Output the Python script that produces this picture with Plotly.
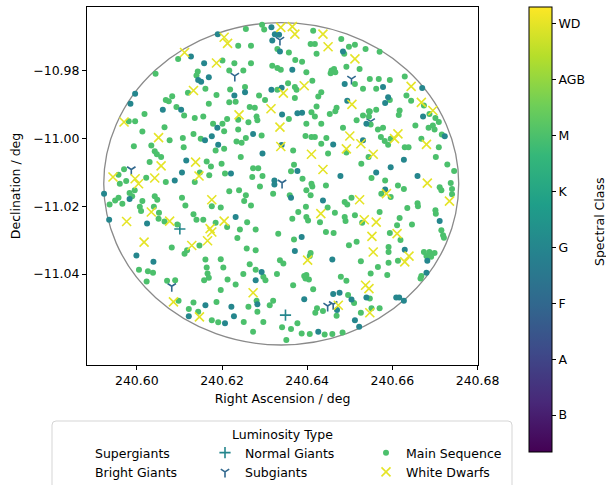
import plotly.graph_objects as go
from plotly.colors import sample_colorscale

# ---------------- data ----------------
CLASS_NAMES = ["B", "A", "F", "G", "K", "M", "AGB", "WD"]
CLASS_VALUES = [0, 1, 2, 3, 4, 5, 6, 7]

# Main sequence stars, spectral class M  (RA deg, Dec deg)
ms_m_points = [
    (240.6097, -10.9766), (240.6044, -10.9810), (240.6120, -10.9866), (240.6083, -10.9876), (240.6068, -10.9887),
    (240.6075, -10.9891), (240.6093, -10.9908), (240.6111, -10.9933), (240.6018, -10.9928), (240.5981, -10.9950),
    (240.5996, -10.9950), (240.6065, -10.9967), (240.6013, -10.9980), (240.6077, -11.0006), (240.6108, -10.9999),
    (240.5993, -11.0023), (240.6034, -11.0021), (240.6110, -11.0026), (240.6042, -11.0038), (240.6047, -11.0047),
    (240.6057, -11.0055), (240.6030, -11.0070), (240.5970, -11.0091), (240.5957, -11.0107), (240.6022, -11.0116),
    (240.6068, -11.0129), (240.5975, -11.0126), (240.5960, -11.0134),
    (240.5957, -11.0175), (240.5949, -11.0183), (240.5936, -11.0195), (240.5966, -11.0193), (240.5983, -11.0161),
    (240.5989, -11.0171), (240.5995, -11.0153), (240.6042, -11.0171), (240.6048, -11.0181), (240.6013, -11.0185),
    (240.6007, -11.0202), (240.6010, -11.0214), (240.6040, -11.0202), (240.6052, -11.0219), (240.6106, -11.0175),
    (240.6114, -11.0198), (240.6051, -11.0237), (240.6065, -11.0245), (240.6095, -11.0254), (240.6082, -11.0322),
    (240.6118, -11.0330), (240.6112, -11.0340), (240.6005, -11.0387), (240.6026, -11.0392), (240.6038, -11.0396),
    (240.6023, -11.0422), (240.6071, -11.0420), (240.6090, -11.0418), (240.6098, -11.0479), (240.6122, -11.0503),
    (240.6256, -10.9678), (240.6294, -10.9665), (240.6299, -10.9679), (240.6238, -10.9727), (240.6268, -10.9727),
    (240.6330, -10.9737), (240.6201, -10.9771), (240.6229, -10.9779), (240.6268, -10.9779), (240.6318, -10.9786),
    (240.6330, -10.9793), (240.6217, -10.9800), (240.6250, -10.9800), (240.6143, -10.9803), (240.6140, -10.9815),
    (240.6161, -10.9854), (240.6254, -10.9849), (240.6219, -10.9856), (240.6330, -10.9857), (240.6187, -10.9872),
    (240.6287, -10.9874), (240.6301, -10.9887), (240.6217, -10.9894), (240.6232, -10.9892), (240.6169, -10.9898),
    (240.6265, -10.9908), (240.6277, -10.9910), (240.6136, -10.9940), (240.6156, -10.9936), (240.6212, -10.9943),
    (240.6238, -10.9945), (240.6281, -10.9936), (240.6283, -10.9947), (240.6262, -10.9953), (240.6179, -10.9957),
    (240.6201, -10.9957), (240.6238, -10.9974), (240.6293, -10.9992), (240.6205, -10.9979), (240.6150, -11.0001),
    (240.6133, -10.9987), (240.6234, -11.0009), (240.6256, -10.9999), (240.6246, -11.0013), (240.6205, -11.0031),
    (240.6185, -11.0036), (240.6244, -11.0055), (240.6164, -11.0068), (240.6174, -11.0083), (240.6199, -11.0075),
    (240.6273, -11.0088), (240.6285, -11.0088), (240.6148, -11.0101), (240.6136, -11.0129), (240.6170, -11.0109),
    (240.6207, -11.0104), (240.6271, -11.0114), (240.6295, -11.0111),
    (240.6289, -11.0142), (240.6217, -11.0156), (240.6240, -11.0153), (240.6256, -11.0168), (240.6320, -11.0163),
    (240.6252, -11.0185), (240.6268, -11.0198), (240.6176, -11.0200), (240.6197, -11.0204), (240.6133, -11.0224),
    (240.6259, -11.0247), (240.6140, -11.0240), (240.6156, -11.0240), (240.6185, -11.0249), (240.6212, -11.0261),
    (240.6242, -11.0269), (240.6279, -11.0269), (240.6147, -11.0316), (240.6332, -11.0281), (240.6236, -11.0294),
    (240.6258, -11.0325), (240.6279, -11.0330), (240.6161, -11.0357), (240.6197, -11.0356), (240.6203, -11.0381),
    (240.6265, -11.0371), (240.6279, -11.0387), (240.6164, -11.0381), (240.6166, -11.0398), (240.6169, -11.0411),
    (240.6158, -11.0418), (240.6213, -11.0416), (240.6232, -11.0431), (240.6250, -11.0400), (240.6297, -11.0408),
    (240.6302, -11.0418), (240.6329, -11.0400), (240.6197, -11.0447), (240.6281, -11.0479), (240.6320, -11.0479),
    (240.6312, -11.0492), (240.6133, -11.0484), (240.6187, -11.0482), (240.6262, -11.0496), (240.6283, -11.0511),
    (240.6144, -11.0511), (240.6176, -11.0536), (240.6191, -11.0542), (240.6251, -11.0541), (240.6297, -11.0541),
    (240.6273, -11.0570),
    (240.6414, -10.9683), (240.6408, -10.9722), (240.6418, -10.9722), (240.6480, -10.9707), (240.6512, -10.9724),
    (240.6498, -10.9730), (240.6537, -10.9737), (240.6357, -10.9747), (240.6422, -10.9751), (240.6487, -10.9751),
    (240.6372, -10.9769), (240.6388, -10.9774), (240.6338, -10.9798), (240.6398, -10.9805), (240.6457, -10.9800),
    (240.6463, -10.9796), (240.6466, -10.9805), (240.6455, -10.9808), (240.6492, -10.9789), (240.6523, -10.9796),
    (240.6355, -10.9838), (240.6412, -10.9830), (240.6371, -10.9849), (240.6375, -10.9857), (240.6512, -10.9840),
    (240.6531, -10.9854), (240.6433, -10.9864), (240.6426, -10.9877), (240.6371, -10.9881), (240.6422, -10.9906),
    (240.6469, -10.9910), (240.6466, -10.9920), (240.6410, -10.9923), (240.6357, -10.9943), (240.6418, -10.9936),
    (240.6453, -10.9928), (240.6516, -10.9947), (240.6531, -10.9933), (240.6545, -10.9920), (240.6398, -10.9957),
    (240.6433, -10.9957), (240.6484, -10.9969), (240.6396, -10.9993), (240.6410, -10.9996), (240.6418, -10.9996),
    (240.6445, -10.9999), (240.6433, -11.0016), (240.6492, -11.0042), (240.6367, -11.0036), (240.6449, -11.0045),
    (240.6527, -11.0075), (240.6369, -11.0078), (240.6362, -11.0097), (240.6389, -11.0119), (240.6410, -11.0134),
    (240.6412, -11.0142), (240.6444, -11.0139), (240.6359, -11.0168), (240.6398, -11.0153), (240.6408, -11.0168),
    (240.6488, -11.0188), (240.6494, -11.0195), (240.6504, -11.0175), (240.6448, -11.0204), (240.6397, -11.0202),
    (240.6379, -11.0217), (240.6365, -11.0237), (240.6398, -11.0232), (240.6402, -11.0242), (240.6430, -11.0247),
    (240.6465, -11.0219), (240.6488, -11.0232), (240.6490, -11.0244), (240.6512, -11.0227), (240.6529, -11.0249),
    (240.6369, -11.0298), (240.6444, -11.0276), (240.6462, -11.0279), (240.6516, -11.0305), (240.6498, -11.0315),
    (240.6408, -11.0338), (240.6406, -11.0347), (240.6336, -11.0359), (240.6344, -11.0369), (240.6526, -11.0362),
    (240.6398, -11.0403), (240.6396, -11.0413), (240.6404, -11.0416), (240.6393, -11.0406), (240.6479, -11.0408),
    (240.6492, -11.0420), (240.6367, -11.0433), (240.6414, -11.0445), (240.6496, -11.0462), (240.6510, -11.0485),
    (240.6423, -11.0501), (240.6437, -11.0509), (240.6419, -11.0514), (240.6469, -11.0523), (240.6526, -11.0514),
    (240.6377, -11.0545), (240.6341, -11.0557), (240.6362, -11.0562), (240.6387, -11.0575), (240.6406, -11.0577),
    (240.6441, -11.0578), (240.6459, -11.0577), (240.6483, -11.0572), (240.6351, -11.0594),
    (240.6570, -10.9745), (240.6629, -10.9818), (240.6547, -10.9825), (240.6568, -10.9825), (240.6594, -10.9828),
    (240.6562, -10.9854), (240.6633, -10.9874), (240.6594, -10.9887), (240.6644, -10.9889), (240.6674, -10.9903),
    (240.6562, -10.9916), (240.6547, -10.9921), (240.6617, -10.9918), (240.6615, -10.9931), (240.6545, -10.9936),
    (240.6687, -10.9928), (240.6701, -10.9940), (240.6549, -10.9959), (240.6578, -10.9969), (240.6566, -10.9974),
    (240.6685, -10.9969), (240.6695, -10.9962), (240.6699, -10.9974), (240.6709, -10.9952), (240.6654, -10.9962),
    (240.6573, -10.9996), (240.6582, -11.0008), (240.6590, -11.0019), (240.6596, -11.0001), (240.6716, -10.9989),
    (240.6668, -11.0001), (240.6709, -11.0026), (240.6629, -11.0026), (240.6638, -11.0026), (240.6544, -11.0055),
    (240.6702, -11.0055), (240.6729, -11.0077), (240.6551, -11.0117), (240.6583, -11.0124), (240.6745, -11.0096),
    (240.6737, -11.0132),
    (240.6711, -11.0144), (240.6715, -11.0153), (240.6740, -11.0149), (240.6740, -11.0165), (240.6574, -11.0163),
    (240.6596, -11.0173), (240.6613, -11.0139), (240.6627, -11.0149), (240.6659, -11.0191), (240.6660, -11.0200),
    (240.6635, -11.0205), (240.6570, -11.0217), (240.6617, -11.0235), (240.6701, -11.0212), (240.6702, -11.0222),
    (240.6611, -11.0256), (240.6646, -11.0254), (240.6594, -11.0279), (240.6619, -11.0300), (240.6715, -11.0271),
    (240.6719, -11.0286), (240.6721, -11.0293), (240.6591, -11.0320), (240.6591, -11.0335), (240.6613, -11.0361),
    (240.6591, -11.0367), (240.6674, -11.0335), (240.6687, -11.0335), (240.6699, -11.0338), (240.6680, -11.0347),
    (240.6691, -11.0349), (240.6566, -11.0379), (240.6549, -11.0398), (240.6588, -11.0403), (240.6668, -11.0406),
    (240.6666, -11.0413), (240.6547, -11.0472), (240.6551, -11.0501), (240.6570, -11.0501),
]

# Main sequence stars, spectral class G (darker teal dots)
ms_g_points = [
    (240.5996, -10.9869), (240.5985, -10.9898), (240.6104, -10.9916), (240.6061, -10.9916), (240.6116, -11.0065),
    (240.6106, -11.0101), (240.6089, -11.0124),
    (240.5923, -11.0163), (240.5983, -11.0179), (240.5935, -11.0240), (240.6024, -11.0251), (240.5999, -11.0345),
    (240.6039, -11.0364), (240.6122, -11.0524),
    (240.6127, -10.9759), (240.6190, -10.9693), (240.6316, -10.9673), (240.6324, -10.9693), (240.6334, -10.9695),
    (240.6318, -10.9712), (240.6158, -10.9779), (240.6144, -10.9828), (240.6151, -10.9833), (240.6169, -10.9820),
    (240.6254, -10.9864), (240.6229, -10.9874), (240.6316, -10.9857), (240.6189, -10.9969), (240.6273, -10.9987),
    (240.6160, -11.0006), (240.6176, -10.9994), (240.6191, -11.0019), (240.6295, -11.0045), (240.6221, -11.0104),
    (240.6323, -11.0124), (240.6323, -11.0136),
    (240.6232, -11.0232), (240.6293, -11.0394), (240.6279, -11.0418), (240.6283, -11.0489), (240.6161, -11.0492),
    (240.6222, -11.0496), (240.6207, -11.0545), (240.6228, -11.0524),
    (240.6336, -10.9744), (240.6484, -10.9744), (240.6365, -10.9798), (240.6340, -10.9851), (240.6488, -10.9840),
    (240.6494, -10.9889), (240.6377, -10.9926), (240.6388, -10.9925), (240.6341, -10.9930), (240.6539, -10.9957),
    (240.6461, -11.0018), (240.6531, -11.0006), (240.6340, -11.0020), (240.6377, -11.0096), (240.6478, -11.0111),
    (240.6362, -11.0175), (240.6437, -11.0183), (240.6387, -11.0291), (240.6371, -11.0332), (240.6459, -11.0357),
    (240.6476, -11.0455), (240.6461, -11.0459), (240.6504, -11.0475), (240.6539, -11.0469), (240.6470, -11.0506),
    (240.6393, -11.0474), (240.6512, -11.0536), (240.6522, -11.0555), (240.6426, -11.0570),
    (240.6578, -10.9849), (240.6670, -10.9852), (240.6590, -10.9879), (240.6583, -10.9896), (240.6672, -10.9936),
    (240.6723, -10.9994), (240.6627, -11.0063), (240.6596, -11.0085), (240.6562, -11.0101), (240.6659, -11.0111),
    (240.6583, -11.0151), (240.6711, -11.0244), (240.6629, -11.0328), (240.6682, -11.0361), (240.6680, -11.0396),
    (240.6609, -11.0469), (240.6616, -11.0469), (240.6627, -11.0479),
]

# White dwarfs
wd_points = [
    (240.6112, -10.9747), (240.5970, -10.9952), (240.6051, -10.9998), (240.6057, -11.0081), (240.5944, -11.0114),
    (240.5996, -11.0119), (240.6004, -11.0134), (240.6042, -11.0117),
    (240.6034, -11.0217), (240.5976, -11.0245), (240.6077, -11.0244), (240.6017, -11.0306), (240.6086, -11.0482),
    (240.6205, -10.9702), (240.6213, -10.9720), (240.6187, -10.9778), (240.6133, -10.9859), (240.6315, -10.9913),
    (240.6240, -10.9931), (240.6336, -10.9967), (240.6138, -11.0070), (240.6146, -11.0111),
    (240.6176, -11.0181), (240.6205, -11.0244), (240.6172, -11.0266), (240.6176, -11.0276), (240.6166, -11.0302),
    (240.6129, -11.0316), (240.6273, -11.0455), (240.6147, -11.0526),
    (240.6338, -10.9673), (240.6365, -10.9671), (240.6371, -10.9693), (240.6437, -10.9693), (240.6449, -10.9730),
    (240.6512, -10.9766), (240.6393, -10.9845), (240.6344, -10.9867), (240.6505, -10.9900), (240.6500, -10.9993),
    (240.6526, -11.0016), (240.6492, -11.0031), (240.6338, -11.0024), (240.6410, -11.0047), (240.6437, -11.0092),
    (240.6523, -11.0181), (240.6432, -11.0222), (240.6534, -11.0240), (240.6401, -11.0359), (240.6537, -11.0433),
    (240.6545, -11.0443), (240.6473, -11.0492),
    (240.6644, -10.9847), (240.6668, -10.9894), (240.6695, -10.9918), (240.6613, -10.9987), (240.6605, -11.0001),
    (240.6680, -11.0018), (240.6555, -11.0047), (240.6682, -11.0132),
    (240.6586, -11.0163), (240.6734, -11.0185), (240.6562, -11.0247), (240.6611, -11.0281), (240.6552, -11.0289),
    (240.6555, -11.0335), (240.6639, -11.0347), (240.6629, -11.0364), (240.6547, -11.0514),
]

# Subgiants
sg_points = [
    (240.5987, -11.0092), (240.6082, -11.0436), (240.6230, -10.9816), (240.6336, -10.9710), (240.6504, -10.9825),
    (240.6341, -11.0131), (240.6448, -11.0494), (240.6461, -11.0489), (240.6549, -10.9950),
]

# Normal giants
ng_points = [(240.6101, -11.0267), (240.6349, -11.0521)]

# spectral class index of each group
CLS_M, CLS_G_MS, CLS_WD, CLS_SG, CLS_NG = 5, 3, 7, 2, 3

# field of view (ellipse drawn in data coordinates)
FOV_CENTER = (240.6339, -11.0134)
FOV_SEMI = (0.04167, 0.0475)

X_RANGE = [240.5883, 240.6801]
Y_RANGE = [-11.0668, -10.9613]
X_TICKS = [240.60, 240.62, 240.64, 240.66, 240.68]
Y_TICKS = [-10.98, -11.00, -11.02, -11.04]
C_RANGE = (-0.66, 7.3)

FONT = "DejaVu Sans"
FS = 12.5


def split(points):
    return [p[0] for p in points], [p[1] for p in points]


def cls_color(v):
    frac = (v - C_RANGE[0]) / (C_RANGE[1] - C_RANGE[0])
    return sample_colorscale("Viridis", [frac])[0]


ms_pts = ms_m_points + ms_g_points
ms_cls = [CLS_M] * len(ms_m_points) + [CLS_G_MS] * len(ms_g_points)
ms_x, ms_y = split(ms_pts)
wd_x, wd_y = split(wd_points)
sg_x, sg_y = split(sg_points)
ng_x, ng_y = split(ng_points)

W, H = 606, 485
L, R, T, B = 87, 128, 7, 120
plot_w = W - L - R
plot_h = H - T - B


def px_x(p):
    return (p - L) / plot_w


def px_y(p):
    return (T + plot_h - p) / plot_h


fig = go.Figure()

# column 1
fig.add_trace(go.Scatter(x=[None], y=[None], mode="markers", name="Supergiants", legend="legend",
                         marker=dict(color="rgba(0,0,0,0)", size=6)))
fig.add_trace(go.Scatter(x=[None], y=[None], mode="markers", name="Bright Giants", legend="legend",
                         marker=dict(color="rgba(0,0,0,0)", size=6)))
# column 2
fig.add_trace(go.Scatter(x=ng_x, y=ng_y, mode="markers", name="Normal Giants", legend="legend2",
                         marker=dict(symbol="cross-thin-open", size=8, color=cls_color(CLS_NG),
                                     line=dict(width=1.6))))
fig.add_trace(go.Scatter(x=sg_x, y=sg_y, mode="markers", name="Subgiants", legend="legend2",
                         marker=dict(symbol="y-down-open", size=7, color=cls_color(CLS_SG),
                                     line=dict(width=1.6))))
# column 3
fig.add_trace(go.Scatter(x=ms_x, y=ms_y, mode="markers", name="Main Sequence", legend="legend3",
                         marker=dict(symbol="circle", size=6, color=[cls_color(c) for c in ms_cls],
                                     line=dict(width=0))))
fig.add_trace(go.Scatter(x=wd_x, y=wd_y, mode="markers", name="White Dwarfs", legend="legend3",
                         marker=dict(symbol="x-thin-open", size=9, color=cls_color(CLS_WD),
                                     line=dict(width=1.6))))
# invisible trace that carries the colour bar
fig.add_trace(go.Scatter(x=[None], y=[None], mode="markers", showlegend=False, hoverinfo="skip",
                         marker=dict(color=[C_RANGE[0]], coloraxis="coloraxis", size=0)))

# field-of-view outline
fig.add_shape(type="circle", xref="x", yref="y",
              x0=FOV_CENTER[0] - FOV_SEMI[0], x1=FOV_CENTER[0] + FOV_SEMI[0],
              y0=FOV_CENTER[1] - FOV_SEMI[1], y1=FOV_CENTER[1] + FOV_SEMI[1],
              line=dict(color="#8a8a8a", width=1.3), layer="below")

# legend frame (rounded rectangle) in paper coordinates
bx0, bx1, by0, by1, rad = 52, 512, 421, 492, 4
rx, ry = rad / plot_w, rad / plot_h
X0, X1, Y0, Y1 = px_x(bx0), px_x(bx1), px_y(by1), px_y(by0)
frame_path = (f"M{X0 + rx},{Y1} L{X1 - rx},{Y1} Q{X1},{Y1} {X1},{Y1 - ry} "
              f"L{X1},{Y0 + ry} Q{X1},{Y0} {X1 - rx},{Y0} L{X0 + rx},{Y0} "
              f"Q{X0},{Y0} {X0},{Y0 + ry} L{X0},{Y1 - ry} Q{X0},{Y1} {X0 + rx},{Y1} Z")
fig.add_shape(type="path", xref="paper", yref="paper", path=frame_path,
              line=dict(color="#d5d5d5", width=1), fillcolor="rgba(255,255,255,0.8)", layer="above")

fig.add_annotation(text="Luminosity Type", xref="paper", yref="paper", x=px_x(282), y=px_y(434),
                   showarrow=False, xanchor="center", yanchor="middle",
                   font=dict(family=FONT, size=FS, color="black"))
fig.add_annotation(text="Spectral Class", xref="paper", yref="paper", x=px_x(599), y=px_y(222),
                   showarrow=False, xanchor="center", yanchor="middle", textangle=-90,
                   font=dict(family=FONT, size=FS, color="black"))

axis_common = dict(showline=True, linecolor="black", linewidth=1, mirror=True, ticks="outside",
                   ticklen=4, tickcolor="black", showgrid=False, zeroline=False,
                   tickfont=dict(family=FONT, size=FS, color="black"))

leg_common = dict(orientation="v", xanchor="left", yanchor="top", bgcolor="rgba(0,0,0,0)",
                  borderwidth=0, font=dict(family=FONT, size=FS, color="black"),
                  itemsizing="trace", tracegroupgap=0)
LEG_TOP = 438

fig.update_layout(
    width=W, height=H,
    margin=dict(l=L, r=R, t=T, b=B, autoexpand=False),
    paper_bgcolor="white", plot_bgcolor="white",
    font=dict(family=FONT, size=FS, color="black"),
    xaxis=dict(range=X_RANGE, tickvals=X_TICKS, tickformat=".2f",
               title=dict(text="Right Ascension / deg", font=dict(family=FONT, size=FS), standoff=7),
               **axis_common),
    yaxis=dict(range=Y_RANGE, tickvals=Y_TICKS, tickformat=".2f",
               title=dict(text="Declination / deg", font=dict(family=FONT, size=FS), standoff=9),
               **axis_common),
    coloraxis=dict(
        colorscale="Viridis", cmin=C_RANGE[0], cmax=C_RANGE[1],
        colorbar=dict(
            tickvals=CLASS_VALUES, ticktext=CLASS_NAMES,
            x=px_x(529), xanchor="left", xpad=0,
            y=1, yanchor="top", ypad=0,
            len=445, lenmode="pixels", thickness=23, thicknessmode="pixels",
            outlinewidth=1, outlinecolor="black",
            ticks="outside", ticklen=4, tickcolor="black",
            tickfont=dict(family=FONT, size=FS, color="black"),
        ),
    ),
    legend=dict(x=px_x(55), y=px_y(LEG_TOP), **leg_common),
    legend2=dict(x=px_x(205), y=px_y(LEG_TOP), **leg_common),
    legend3=dict(x=px_x(366), y=px_y(LEG_TOP), **leg_common),
    showlegend=True,
)

fig.write_html("out.html")
